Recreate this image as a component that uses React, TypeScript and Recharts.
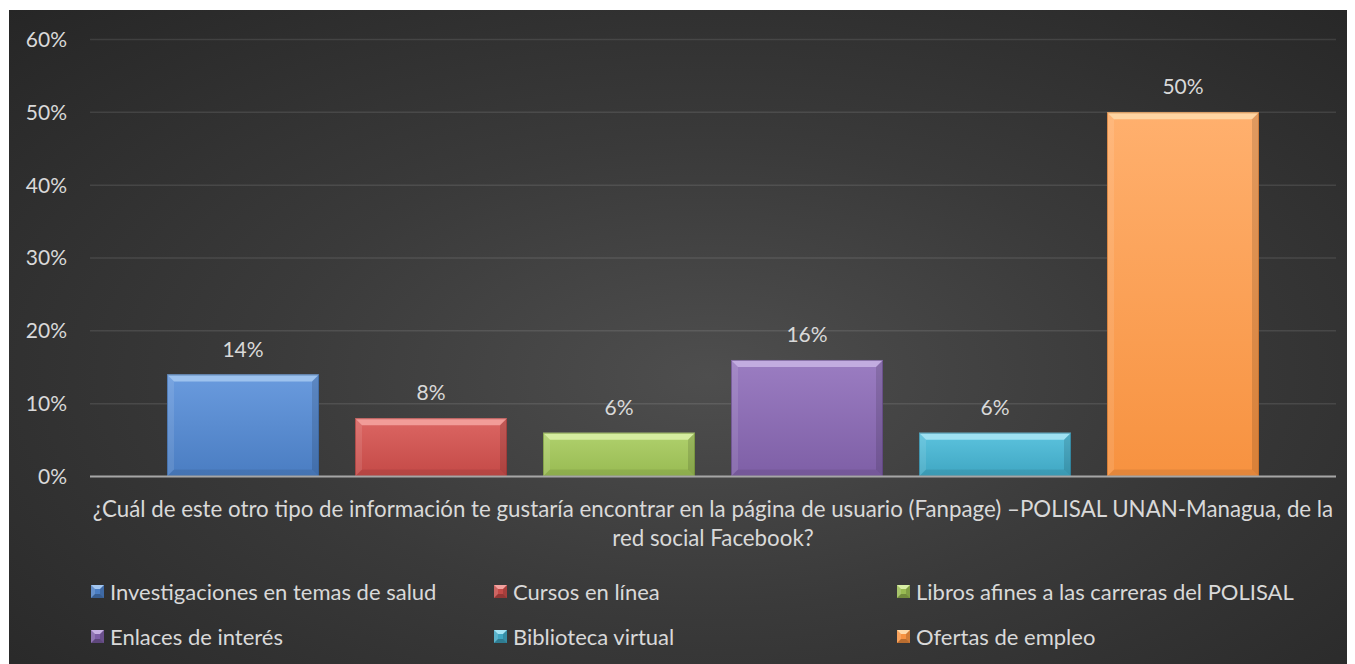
import React from 'react';
import { BarChart, Bar, XAxis, YAxis, CartesianGrid, Legend, LabelList } from 'recharts';

const categories = [
  '¿Cuál de este otro tipo de información te gustaría encontrar en la página de usuario (Fanpage) –POLISAL UNAN-Managua, de la red social Facebook?',
];
const seriesNames = [
  'Investigaciones en temas de salud',
  'Cursos en línea',
  'Libros afines a las carreras del POLISAL',
  'Enlaces de interés',
  'Biblioteca virtual',
  'Ofertas de empleo',
];
const seriesValues = [0.14, 0.08, 0.06, 0.16, 0.06, 0.5];
const yTicks = [0, 0.1, 0.2, 0.3, 0.4, 0.5, 0.6];

// styling
const palette = [
  { top: '#6a9bde', base: '#4a7dc2', light: '#a3c6f0', edge: '#2f5a90' },
  { top: '#dc6663', base: '#c44a47', light: '#f4a29f', edge: '#8a2e2c' },
  { top: '#b0d16d', base: '#98ba52', light: '#d9efa6', edge: '#62802c' },
  { top: '#9b7dc2', base: '#7e5fa6', light: '#c7b1e3', edge: '#523a72' },
  { top: '#5cc3de', base: '#3fa6c2', light: '#a6e4f4', edge: '#24708a' },
  { top: '#ffb06e', base: '#f79240', light: '#ffd9a8', edge: '#b85f1c' },
];
const FONT = 'Lato, "Open Sans", sans-serif';
const TEXT = '#d9d9d9';

const keys = seriesNames.map((_, i) => `s${i}`);
const data = categories.map((name) => {
  const row: Record<string, any> = { name };
  seriesValues.forEach((v, i) => (row[keys[i]] = v));
  return row;
});

const pct = (v: number) => `${Math.round(v * 100)}%`;

const wrapWords = (s: string, maxChars: number) => {
  const words = s.split(' ');
  const lines: string[] = [];
  let cur = '';
  words.forEach((w) => {
    const next = cur ? cur + ' ' + w : w;
    if (next.length > maxChars && cur) {
      lines.push(cur);
      cur = w;
    } else cur = next;
  });
  if (cur) lines.push(cur);
  return lines;
};

const makeShape = (i: number) => (props: any) => {
  const { x, y, width: w, height: h } = props;
  if (!h || h <= 0) return null;
  const c = palette[i];
  const b = Math.min(7, h / 2, w / 2);
  const id = `bg-${i}`;
  return (
    <g>
      <defs>
        <linearGradient id={id} x1="0" y1="0" x2="0" y2="1">
          <stop offset="0%" stopColor={c.top} />
          <stop offset="100%" stopColor={c.base} />
        </linearGradient>
      </defs>
      <rect x={x} y={y} width={w} height={h} fill={`url(#${id})`} />
      <polygon
        points={`${x},${y} ${x + w},${y} ${x + w - b},${y + b} ${x + b},${y + b}`}
        fill={c.light}
        opacity={0.9}
      />
      <polygon
        points={`${x},${y} ${x + b},${y + b} ${x + b},${y + h - b} ${x},${y + h}`}
        fill="#ffffff"
        opacity={0.1}
      />
      <polygon
        points={`${x + w},${y} ${x + w},${y + h} ${x + w - b},${y + h - b} ${x + w - b},${y + b}`}
        fill="#000000"
        opacity={0.12}
      />
      <polygon
        points={`${x},${y + h} ${x + b},${y + h - b} ${x + w - b},${y + h - b} ${x + w},${y + h}`}
        fill="#000000"
        opacity={0.08}
      />
      <rect x={x + 0.5} y={y + 0.5} width={w - 1} height={h - 1} fill="none" stroke={c.edge} strokeWidth={1} opacity={0.5} />
    </g>
  );
};

const LegendIcon = ({ i }: { i: number }) => {
  const c = palette[i];
  const s = 13;
  const b = 4;
  return (
    <svg width={s} height={s} style={{ display: 'block' }}>
      <rect x={0} y={0} width={s} height={s} fill={c.base} />
      <polygon points={`0,0 ${s},0 ${s - b},${b} ${b},${b}`} fill={c.light} />
      <polygon points={`0,0 ${b},${b} ${b},${s - b} 0,${s}`} fill="#fff" opacity={0.15} />
      <polygon points={`${s},0 ${s},${s} ${s - b},${s - b} ${s - b},${b}`} fill="#000" opacity={0.15} />
      <polygon points={`0,${s} ${b},${s - b} ${s - b},${s - b} ${s},${s}`} fill="#000" opacity={0.25} />
    </svg>
  );
};

const renderLegend = () => (
  <div style={{ position: 'relative', width: 1346, height: 88 }}>
    {seriesNames.map((n, i) => {
      const col = i % 3;
      const row = Math.floor(i / 3);
      return (
        <div
          key={n}
          style={{
            position: 'absolute',
            left: 82 + col * 403,
            top: (row === 0 ? 15 : 60) - 15,
            height: 30,
            display: 'flex',
            alignItems: 'center',
            whiteSpace: 'nowrap',
          }}
        >
          <LegendIcon i={i} />
          <span style={{ marginLeft: 6, color: TEXT, fontFamily: FONT, fontSize: 22 }}>{n}</span>
        </div>
      );
    })}
  </div>
);

const CategoryTick = (props: any) => {
  const { x, payload } = props;
  const lines = wrapWords(String(payload.value), 124);
  return (
    <g>
      {lines.map((l, k) => (
        <text
          key={k}
          x={x}
          y={498 + k * 29}
          textAnchor="middle"
          dominantBaseline="central"
          fill={TEXT}
          fontFamily={FONT}
          fontSize={22.3}
        >
          {l}
        </text>
      ))}
    </g>
  );
};

export default function App() {
  return (
    <div
      style={{
        marginLeft: 1,
        marginTop: 2,
        width: 1346,
        height: 654,
        background: 'radial-gradient(ellipse farthest-corner at 52% 56%, #4e4e4e 0%, #3a3a3a 45%, #262626 100%)',
      }}
    >
      <BarChart
        width={1346}
        height={654}
        data={data}
        margin={{ top: 29.5, right: 19, left: 21, bottom: 0 }}
        barSize={152}
        barGap={36}
      >
        <CartesianGrid vertical={false} stroke="#ffffff" strokeOpacity={0.1} strokeWidth={1.5} />
        <XAxis
          dataKey="name"
          height={99.5}
          tickLine={false}
          axisLine={{ stroke: '#a6a6a6', strokeWidth: 2 }}
          tick={<CategoryTick />}
          interval={0}
        />
        <YAxis
          width={60}
          domain={[0, 0.6]}
          ticks={yTicks}
          tickFormatter={pct}
          axisLine={false}
          tickLine={false}
          tickMargin={17}
          tick={{ fill: TEXT, fontFamily: FONT, fontSize: 21 }}
        />
        <Legend verticalAlign="bottom" height={88} content={renderLegend} wrapperStyle={{ left: 0, width: 1346, bottom: 0, height: 88 }} />
        {keys.map((k, i) => (
          <Bar key={k} dataKey={k} name={seriesNames[i]} isAnimationActive={false} shape={makeShape(i)}>
            <LabelList
              dataKey={k}
              position="top"
              offset={18}
              formatter={(v: any) => pct(Number(v))}
              fill={TEXT}
              fontFamily={FONT}
              fontSize={21}
            />
          </Bar>
        ))}
      </BarChart>
    </div>
  );
}
